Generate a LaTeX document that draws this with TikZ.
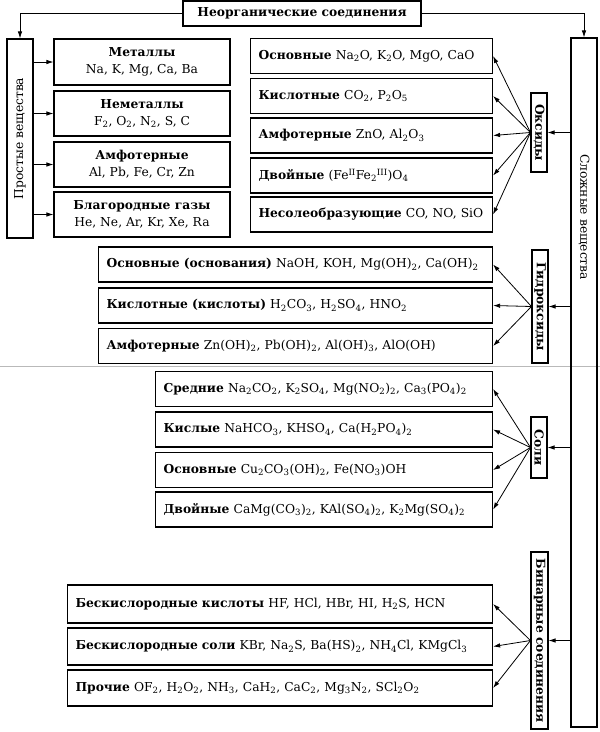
\documentclass[tikz,border=0pt]{standalone}
\usepackage{fontspec}
\setmainfont{DejaVu Serif}
\usetikzlibrary{arrows.meta,positioning}
\newcommand{\sbs}[1]{\textsubscript{#1}}
\newcommand{\sps}[1]{\textsuperscript{#1}}
\newcommand{\fsz}{\fontsize{12.3}{14.5}\selectfont}

\begin{document}
\begin{tikzpicture}[x=1pt,y=-1pt,>={Latex[length=7pt,width=4.5pt]},
  every node/.style={font=\fsz},
  box/.style={draw,line width=1.1pt,inner sep=0pt},
  row/.style={box,anchor=west,minimum height=35pt,text width=#1,inner xsep=8pt,align=left},
  elem/.style={box,minimum width=176pt,minimum height=45pt,align=center,font=\fontsize{12.3}{17}\selectfont},
  vlab/.style={box,rotate=-90,font=\bfseries\fsz},
  link/.style={->,line width=0.8pt}]
  \useasboundingbox (0,0) rectangle (600,732);
  \draw[gray!55,line width=0.7pt] (0,366) -- (600,366);

  % top
  \node[box,minimum width=238pt,minimum height=25pt,font=\bfseries\fsz] (inorg) at (302,13.5) {Неорганические соединения};
  \node[box,rotate=90,minimum width=199pt,minimum height=26pt] (simple) at (20,138.5) {Простые вещества};
  \node[box,rotate=-90,minimum width=689pt,minimum height=26pt] (compl) at (584,382.5) {};
  \node[rotate=-90] (compltext) at (584,217) {Сложные вещества};

  % simple substances
  \node[elem,minimum height=46pt] (met) at (142,62) {\textbf{Металлы}\\Na, K, Mg, Ca, Ba};
  \node[elem] (nonmet) at (142,113.5) {\textbf{Неметаллы}\\F\sbs2, O\sbs2, N\sbs2, S, C};
  \node[elem] (amph) at (142,164.5) {\textbf{Амфотерные}\\Al, Pb, Fe, Cr, Zn};
  \node[elem] (noble) at (142,214.5) {\textbf{Благородные газы}\\He, Ne, Ar, Kr, Xe, Ra};

  % oxides
  \node[vlab,minimum width=79pt,minimum height=16pt] (ox) at (539,132.5) {Оксиды};
  \node[row=226pt] (oxbas) at (250,56) {\textbf{Основные} Na\sbs2O, K\sbs2O, MgO, CaO};
  \node[row=226pt] (oxac) at (250,96) {\textbf{Кислотные} CO\sbs2, P\sbs2O\sbs5};
  \node[row=226pt] (oxam) at (250,135.5) {\textbf{Амфотерные} ZnO, Al\sbs2O\sbs3};
  \node[row=226pt] (oxdbl) at (250,175.5) {\textbf{Двойные} (Fe\sps{II}Fe\sbs2\sps{III})O\sbs4};
  \node[row=226pt] (oxind) at (250,214.5) {\textbf{Несолеобразующие} CO, NO, SiO};

  % hydroxides
  \node[vlab,minimum width=113pt,minimum height=16pt] (hyd) at (540,306.5) {Гидроксиды};
  \node[row=378pt] (hydbas) at (98,264.5) {\textbf{Основные (основания)} NaOH, KOH, Mg(OH)\sbs2, Ca(OH)\sbs2};
  \node[row=378pt] (hydac) at (98,305.5) {\textbf{Кислотные (кислоты)} H\sbs2CO\sbs3, H\sbs2SO\sbs4, HNO\sbs2};
  \node[row=378pt] (hydam) at (98,346) {\textbf{Амфотерные} Zn(OH)\sbs2, Pb(OH)\sbs2, Al(OH)\sbs3, AlO(OH)};

  % salts
  \node[vlab,minimum width=61pt,minimum height=16pt] (salt) at (539,447.5) {Соли};
  \node[row=321pt] (saltmid) at (155,389) {\textbf{Средние} Na\sbs2CO\sbs2, K\sbs2SO\sbs4, Mg(NO\sbs2)\sbs2, Ca\sbs3(PO\sbs4)\sbs2};
  \node[row=321pt] (saltac) at (155,429.5) {\textbf{Кислые} NaHCO\sbs3, KHSO\sbs4, Ca(H\sbs2PO\sbs4)\sbs2};
  \node[row=321pt] (saltbas) at (155,470) {\textbf{Основные} Cu\sbs2CO\sbs3(OH)\sbs2, Fe(NO\sbs3)OH};
  \node[row=321pt] (saltdbl) at (155,509.5) {\textbf{Двойные} CaMg(CO\sbs3)\sbs2, KAl(SO\sbs4)\sbs2, K\sbs2Mg(SO\sbs4)\sbs2};

  % binary compounds
  \node[vlab,minimum width=177pt,minimum height=17pt] (bin) at (539.5,640.5) {Бинарные соединения};
  \node[row=409pt,minimum height=38pt] (binac) at (67,604) {\textbf{Бескислородные кислоты} HF, HCl, HBr, HI, H\sbs2S, HCN};
  \node[row=409pt,minimum height=37pt] (binsalt) at (67,646.5) {\textbf{Бескислородные соли} KBr, Na\sbs2S, Ba(HS)\sbs2, NH\sbs4Cl, KMgCl\sbs3};
  \node[row=409pt,minimum height=36pt] (binoth) at (67,688) {\textbf{Прочие} OF\sbs2, H\sbs2O\sbs2, NH\sbs3, CaH\sbs2, CaC\sbs2, Mg\sbs3N\sbs2, SCl\sbs2O\sbs2};

  % connectors
  \draw[link] (inorg.west) -| (simple.east);
  \draw[link] (inorg.east) -| (compl.west);
  \foreach \b in {met,nonmet,amph,noble}
    \draw[link] (simple.south |- \b) -- (\b.west);
  \foreach \g/\list in {ox/{oxbas,oxac,oxam,oxdbl,oxind},hyd/{hydbas,hydac,hydam},
      salt/{saltmid,saltac,saltbas,saltdbl},bin/{binac,binsalt,binoth}}{
    \draw[link] (compl.south |- \g) -- (\g.north);
    \foreach \b in \list
      \draw[link] (\g.south) -- (\b.east);
  }
\end{tikzpicture}
\end{document}
